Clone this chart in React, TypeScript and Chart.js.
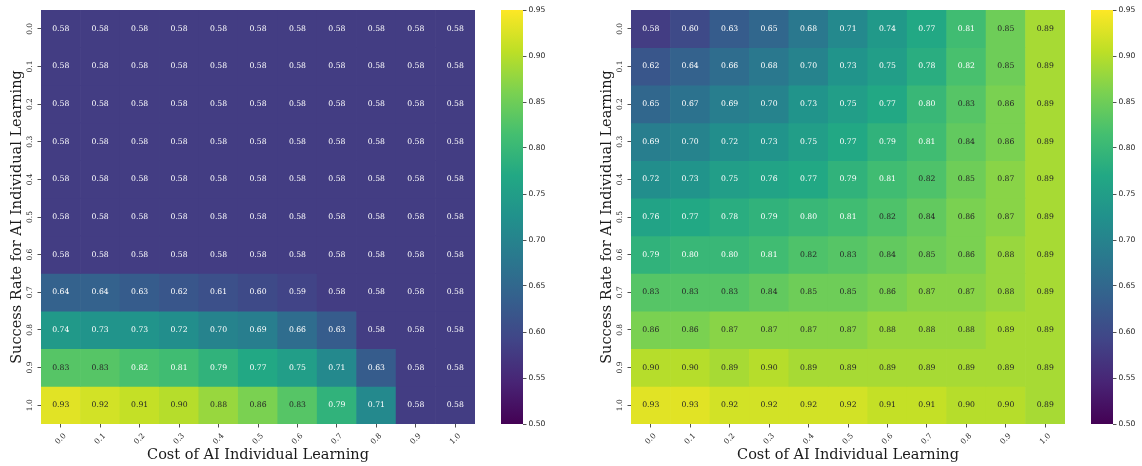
import React, { useEffect, useRef } from "react";
import { Chart, registerables } from "chart.js";

Chart.register(...registerables);

const costLabels = ["0.0", "0.1", "0.2", "0.3", "0.4", "0.5", "0.6", "0.7", "0.8", "0.9", "1.0"];
const successLabels = ["0.0", "0.1", "0.2", "0.3", "0.4", "0.5", "0.6", "0.7", "0.8", "0.9", "1.0"];

const leftRows: number[][] = [
  [0.58, 0.58, 0.58, 0.58, 0.58, 0.58, 0.58, 0.58, 0.58, 0.58, 0.58],
  [0.58, 0.58, 0.58, 0.58, 0.58, 0.58, 0.58, 0.58, 0.58, 0.58, 0.58],
  [0.58, 0.58, 0.58, 0.58, 0.58, 0.58, 0.58, 0.58, 0.58, 0.58, 0.58],
  [0.58, 0.58, 0.58, 0.58, 0.58, 0.58, 0.58, 0.58, 0.58, 0.58, 0.58],
  [0.58, 0.58, 0.58, 0.58, 0.58, 0.58, 0.58, 0.58, 0.58, 0.58, 0.58],
  [0.58, 0.58, 0.58, 0.58, 0.58, 0.58, 0.58, 0.58, 0.58, 0.58, 0.58],
  [0.58, 0.58, 0.58, 0.58, 0.58, 0.58, 0.58, 0.58, 0.58, 0.58, 0.58],
  [0.64, 0.64, 0.63, 0.62, 0.61, 0.60, 0.59, 0.58, 0.58, 0.58, 0.58],
  [0.74, 0.73, 0.73, 0.72, 0.70, 0.69, 0.66, 0.63, 0.58, 0.58, 0.58],
  [0.83, 0.83, 0.818, 0.81, 0.79, 0.77, 0.75, 0.71, 0.63, 0.58, 0.58],
  [0.93, 0.92, 0.91, 0.90, 0.88, 0.86, 0.83, 0.79, 0.71, 0.58, 0.58],
];

const rightRows: number[][] = [
  [0.58, 0.60, 0.63, 0.65, 0.68, 0.71, 0.74, 0.77, 0.81, 0.85, 0.89],
  [0.62, 0.64, 0.66, 0.68, 0.70, 0.73, 0.75, 0.78, 0.818, 0.85, 0.89],
  [0.65, 0.67, 0.69, 0.70, 0.73, 0.75, 0.77, 0.80, 0.83, 0.86, 0.89],
  [0.69, 0.70, 0.72, 0.73, 0.75, 0.77, 0.79, 0.81, 0.84, 0.86, 0.89],
  [0.72, 0.73, 0.75, 0.76, 0.77, 0.79, 0.81, 0.823, 0.85, 0.87, 0.89],
  [0.76, 0.77, 0.78, 0.79, 0.80, 0.81, 0.823, 0.84, 0.86, 0.87, 0.89],
  [0.79, 0.80, 0.80, 0.81, 0.823, 0.83, 0.84, 0.85, 0.86, 0.88, 0.89],
  [0.83, 0.83, 0.83, 0.84, 0.85, 0.85, 0.86, 0.87, 0.87, 0.88, 0.89],
  [0.86, 0.86, 0.87, 0.87, 0.87, 0.87, 0.88, 0.88, 0.88, 0.89, 0.89],
  [0.90, 0.90, 0.89, 0.90, 0.89, 0.89, 0.89, 0.89, 0.89, 0.89, 0.89],
  [0.93, 0.93, 0.92, 0.92, 0.92, 0.92, 0.91, 0.91, 0.90, 0.90, 0.89],
];

const colorMin = 0.5;
const colorMax = 0.95;
const colorStep = 0.05;

const xTitle = "Cost of AI Individual Learning";
const yTitle = "Success Rate for AI Individual Learning";

// viridis colour map stops at t = i/10
const VIRIDIS = [
  "#440154", "#482475", "#414487", "#355f8d", "#2a788e", "#21918c",
  "#22a884", "#44bf70", "#7ad151", "#bddf26", "#fde725",
];

function hexToRgb(h: string): number[] {
  return [parseInt(h.slice(1, 3), 16), parseInt(h.slice(3, 5), 16), parseInt(h.slice(5, 7), 16)];
}
const VIRIDIS_RGB = VIRIDIS.map(hexToRgb);

function viridisRgb(t: number): number[] {
  const c = Math.max(0, Math.min(1, t)) * (VIRIDIS_RGB.length - 1);
  const i = Math.min(VIRIDIS_RGB.length - 2, Math.floor(c));
  const f = c - i;
  const a = VIRIDIS_RGB[i];
  const b = VIRIDIS_RGB[i + 1];
  return [0, 1, 2].map((k) => Math.round(a[k] + (b[k] - a[k]) * f));
}
function colorFor(v: number): string {
  const [r, g, b] = viridisRgb((v - colorMin) / (colorMax - colorMin));
  return `rgb(${r},${g},${b})`;
}
function textColorFor(v: number): string {
  const rgb = viridisRgb((v - colorMin) / (colorMax - colorMin)).map((c) => {
    const s = c / 255;
    return s <= 0.03928 ? s / 12.92 : Math.pow((s + 0.055) / 1.055, 2.4);
  });
  const lum = 0.2126 * rgb[0] + 0.7152 * rgb[1] + 0.0722 * rgb[2];
  return lum > 0.408 ? "#262626" : "#ffffff";
}

const SERIF = "'DejaVu Serif', serif";
const SANS = "'DejaVu Sans', sans-serif";
const AXIS_COLOR = "#262626";

const heatmapLabels = {
  id: "heatmapLabels",
  afterDraw(chart: any) {
    const ctx = chart.ctx as CanvasRenderingContext2D;
    const xs = chart.scales.x;
    const ys = chart.scales.y;
    const area = chart.chartArea;
    ctx.save();
    // cell annotations
    ctx.font = `7.7px ${SERIF}`;
    ctx.textAlign = "center";
    ctx.textBaseline = "middle";
    chart.data.datasets.forEach((ds: any, di: number) => {
      const meta = chart.getDatasetMeta(di);
      meta.data.forEach((el: any, j: number) => {
        const v = ds.values[j];
        const p = el.getCenterPoint();
        ctx.fillStyle = textColorFor(v);
        ctx.fillText(v.toFixed(2), p.x, p.y);
      });
    });
    // tick labels
    ctx.fillStyle = AXIS_COLOR;
    ctx.font = `7.5px ${SERIF}`;
    successLabels.forEach((lab, i) => {
      const y = ys.getPixelForValue(i);
      ctx.save();
      ctx.translate(area.left - 11, y);
      ctx.rotate(-Math.PI / 2);
      ctx.fillText(lab, 0, 0);
      ctx.restore();
    });
    costLabels.forEach((lab, i) => {
      const x = xs.getPixelForValue(i);
      ctx.save();
      ctx.translate(x, area.bottom + 15);
      ctx.rotate(-Math.PI / 4);
      ctx.fillText(lab, 0, 0);
      ctx.restore();
    });
    // titles
    ctx.fillStyle = "#1a1a1a";
    ctx.font = `14.5px ${SERIF}`;
    ctx.fillText(xTitle, (area.left + area.right) / 2, area.bottom + 31);
    ctx.save();
    ctx.translate(area.left - 24, (area.top + area.bottom) / 2);
    ctx.rotate(-Math.PI / 2);
    ctx.fillText(yTitle, 0, 0);
    ctx.restore();
    ctx.restore();
  },
};

function Heatmap({ rows, left }: { rows: number[][]; left: number }) {
  const ref = useRef<HTMLCanvasElement>(null);
  useEffect(() => {
    const gridOpts = {
      display: true,
      offset: false,
      drawOnChartArea: false,
      drawTicks: true,
      tickLength: 3.5,
      color: AXIS_COLOR,
      lineWidth: 0.8,
    };
    const chart = new Chart(ref.current as HTMLCanvasElement, {
      type: "bar",
      data: {
        labels: costLabels,
        datasets: rows.map((row, r) => ({
          data: row.map(() => [r - 0.5, r + 0.5]),
          values: row,
          backgroundColor: row.map(colorFor),
          borderWidth: 0,
          barPercentage: 1,
          categoryPercentage: 1,
          grouped: false,
        })) as any,
      },
      options: {
        animation: false,
        responsive: false,
        maintainAspectRatio: false,
        layout: { padding: { top: 10, right: 5, left: 0, bottom: 0 } },
        plugins: { legend: { display: false }, tooltip: { enabled: false } },
        scales: {
          x: {
            type: "category",
            offset: true,
            ticks: { display: false },
            grid: gridOpts,
            border: { display: false },
            afterFit: (s: any) => {
              s.height = 42;
            },
          },
          y: {
            type: "linear",
            reverse: true,
            min: -0.5,
            max: 10.5,
            ticks: { display: false, stepSize: 1 },
            afterBuildTicks: (s: any) => {
              s.ticks = successLabels.map((_, i) => ({ value: i }));
            },
            grid: gridOpts,
            border: { display: false },
            afterFit: (s: any) => {
              s.width = 41;
            },
          },
        },
      } as any,
      plugins: [heatmapLabels],
    });
    return () => chart.destroy();
  }, [rows]);
  return (
    <canvas
      ref={ref}
      width={480}
      height={466}
      style={{ position: "absolute", left, top: 0, width: 480, height: 466 }}
    />
  );
}

function Colorbar({ left, width }: { left: number; width: number }) {
  const ref = useRef<HTMLCanvasElement>(null);
  useEffect(() => {
    const chart = new Chart(ref.current as HTMLCanvasElement, {
      type: "bar",
      data: {
        labels: [""],
        datasets: [
          {
            data: [[colorMin, colorMax]] as any,
            backgroundColor: (c: any) => {
              const a = c.chart.chartArea;
              if (!a) return colorFor(colorMin);
              const g = c.chart.ctx.createLinearGradient(0, a.bottom, 0, a.top);
              VIRIDIS.forEach((col, i) => g.addColorStop(i / (VIRIDIS.length - 1), col));
              return g;
            },
            borderWidth: 0,
            barPercentage: 1,
            categoryPercentage: 1,
            inflateAmount: 0,
          } as any,
        ],
      },
      options: {
        animation: false,
        responsive: false,
        maintainAspectRatio: false,
        layout: { padding: { top: 10, bottom: 42, left: 0, right: 0 } },
        plugins: { legend: { display: false }, tooltip: { enabled: false } },
        scales: {
          x: { display: false },
          y: {
            position: "right",
            min: colorMin,
            max: colorMax,
            ticks: {
              stepSize: colorStep,
              callback: (v: any) => Number(v).toFixed(2),
              font: { family: SANS, size: 7.6 },
              color: AXIS_COLOR,
              padding: 2,
            },
            grid: {
              drawOnChartArea: false,
              drawTicks: true,
              tickLength: 3.5,
              color: AXIS_COLOR,
              lineWidth: 0.8,
            },
            border: { display: false },
            afterFit: (s: any) => {
              s.width = width - 22;
            },
          },
        },
      } as any,
    });
    return () => chart.destroy();
  }, [width]);
  return (
    <canvas
      ref={ref}
      width={width}
      height={466}
      style={{ position: "absolute", left, top: 0, width, height: 466 }}
    />
  );
}

export default function App() {
  return (
    <div
      style={{
        position: "absolute",
        left: 0,
        top: 0,
        width: 1142,
        height: 466,
        background: "#ffffff",
        overflow: "hidden",
      }}
    >
      <Heatmap rows={leftRows} left={0} />
      <Colorbar left={501} width={60} />
      <Heatmap rows={rightRows} left={590} />
      <Colorbar left={1091} width={51} />
    </div>
  );
}
